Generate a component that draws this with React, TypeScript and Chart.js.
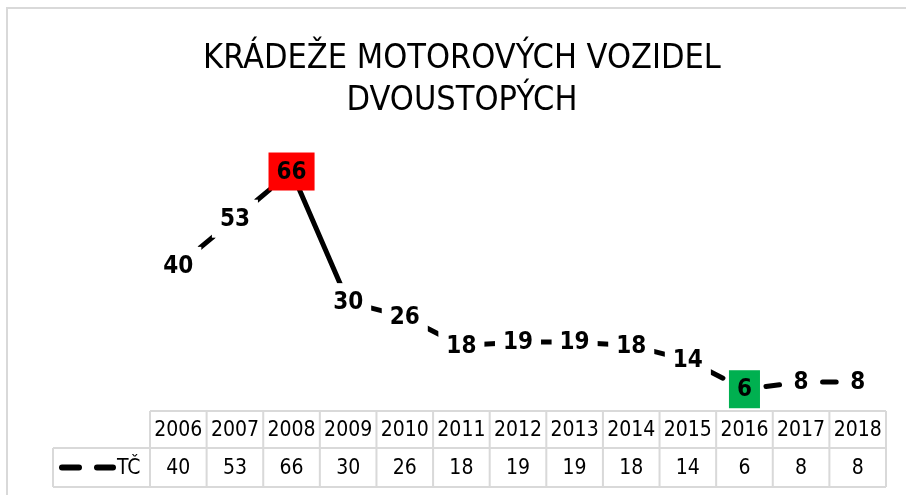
import React, { useEffect, useRef } from "react";
import { Chart, registerables } from "chart.js";

Chart.register(...registerables);

const years = ["2006", "2007", "2008", "2009", "2010", "2011", "2012", "2013", "2014", "2015", "2016", "2017", "2018"];
const values = [40, 53, 66, 30, 26, 18, 19, 19, 18, 14, 6, 8, 8];
const seriesName = "TČ";
const titleLines = ["KRÁDEŽE MOTOROVÝCH VOZIDEL", "DVOUSTOPÝCH"];
const highlightMax = "#ff0000";
const highlightMin = "#00b050";
const solidSegmentStart = 2;

const FONT = '"Liberation Sans Narrow", "DejaVu Sans Condensed", "Liberation Sans", sans-serif';
const GRID = "#d9d9d9";
const DASH_RATIO = 0.24;

function segLen(c: any) {
  return Math.hypot(c.p1.x - c.p0.x, c.p1.y - c.p0.y);
}
function segDash(c: any) {
  if (c.p0DataIndex === solidSegmentStart) return [];
  const len = segLen(c);
  const d = len * DASH_RATIO;
  return [d, len - d];
}
function segDashOffset(c: any) {
  if (c.p0DataIndex === solidSegmentStart) return 0;
  const len = segLen(c);
  const d = len * DASH_RATIO;
  return (len + d) / 2;
}

const framePlugin = {
  id: "frame",
  beforeDraw(chart: any) {
    const ctx = chart.ctx;
    ctx.save();
    ctx.fillStyle = "#ffffff";
    ctx.fillRect(0, 0, chart.width, chart.height);
    ctx.strokeStyle = GRID;
    ctx.lineWidth = 2;
    ctx.beginPath();
    ctx.moveTo(7, chart.height);
    ctx.lineTo(7, 8);
    ctx.lineTo(chart.width, 8);
    ctx.stroke();
    ctx.fillStyle = "#000000";
    ctx.font = `34px ${FONT}`;
    ctx.textAlign = "center";
    ctx.textBaseline = "middle";
    const cx = 462;
    titleLines.forEach((t, i) => ctx.fillText(t, cx, 59 + i * 42));
    ctx.restore();
  },
};

const labelPlugin = {
  id: "valueLabels",
  afterDatasetsDraw(chart: any) {
    const ctx = chart.ctx;
    const meta = chart.getDatasetMeta(0);
    const data = chart.data.datasets[0].data as number[];
    const maxV = Math.max(...data);
    const minV = Math.min(...data);
    ctx.save();
    ctx.font = `bold 24px ${FONT}`;
    ctx.textAlign = "center";
    ctx.textBaseline = "middle";
    meta.data.forEach((pt: any, i: number) => {
      const v = data[i];
      const txt = String(v);
      const w = ctx.measureText(txt).width + 16;
      const h = 38;
      let bg = "#ffffff";
      if (v === maxV) bg = highlightMax;
      else if (v === minV) bg = highlightMin;
      ctx.fillStyle = bg;
      ctx.fillRect(pt.x - w / 2, pt.y - h / 2, w, h);
      ctx.fillStyle = "#000000";
      ctx.fillText(txt, pt.x, pt.y + 1);
    });
    ctx.restore();
  },
};

const tablePlugin = {
  id: "dataTable",
  afterDraw(chart: any) {
    const ctx = chart.ctx;
    const xs = chart.scales.x;
    const area = chart.chartArea;
    const n = chart.data.labels.length;
    const colW = (area.right - area.left) / n;
    const top = area.bottom;
    const mid = top + 37;
    const bottom = mid + 39;
    const legendLeft = 53;
    ctx.save();
    ctx.strokeStyle = GRID;
    ctx.lineWidth = 2;
    ctx.beginPath();
    ctx.moveTo(area.left, top);
    ctx.lineTo(area.right, top);
    ctx.moveTo(legendLeft, mid);
    ctx.lineTo(area.right, mid);
    ctx.moveTo(legendLeft, bottom);
    ctx.lineTo(area.right, bottom);
    for (let i = 0; i <= n; i++) {
      const x = area.left + i * colW;
      ctx.moveTo(x, top);
      ctx.lineTo(x, bottom);
    }
    ctx.moveTo(legendLeft, mid);
    ctx.lineTo(legendLeft, bottom);
    ctx.stroke();

    ctx.fillStyle = "#000000";
    ctx.font = `21px ${FONT}`;
    ctx.textAlign = "center";
    ctx.textBaseline = "middle";
    const data = chart.data.datasets[0].data as number[];
    (chart.data.labels as string[]).forEach((lab, i) => {
      const cx = xs.getPixelForValue(i);
      ctx.fillText(lab, cx, (top + mid) / 2 + 1);
      ctx.fillText(String(data[i]), cx, (mid + bottom) / 2 + 1);
    });

    const ly = (mid + bottom) / 2;
    ctx.strokeStyle = "#000000";
    ctx.lineWidth = 6;
    ctx.lineCap = "round";
    ctx.beginPath();
    ctx.moveTo(62, ly);
    ctx.lineTo(79, ly);
    ctx.moveTo(97, ly);
    ctx.lineTo(113, ly);
    ctx.stroke();
    ctx.textAlign = "left";
    ctx.fillText(chart.data.datasets[0].label, 117, ly + 1);
    ctx.restore();
  },
};

export default function App() {
  const ref = useRef<HTMLCanvasElement | null>(null);
  useEffect(() => {
    if (!ref.current) return;
    const chart = new Chart(ref.current, {
      type: "line",
      data: {
        labels: years,
        datasets: [
          {
            label: seriesName,
            data: values,
            borderColor: "#000000",
            borderWidth: 5,
            borderDash: [18, 17],
            borderCapStyle: "round",
            pointRadius: 0,
            tension: 0,
            fill: false,
            segment: {
              borderDash: segDash,
              borderDashOffset: segDashOffset,
            },
          },
        ],
      },
      options: {
        responsive: false,
        animation: false,
        layout: { padding: { left: 150, right: 20, top: 157, bottom: 84 } },
        plugins: {
          legend: { display: false },
          tooltip: { enabled: false },
          title: { display: false },
        },
        scales: {
          x: { display: false, offset: true, grid: { display: false } },
          y: { display: false, min: 0, max: 70, grid: { display: false } },
        },
      },
      plugins: [framePlugin, labelPlugin, tablePlugin],
    });
    return () => chart.destroy();
  }, []);
  return (
    <div style={{ position: "fixed", left: 0, top: 0, width: 906, height: 495, background: "#fff" }}>
      <canvas ref={ref} width={906} height={495} style={{ width: 906, height: 495 }} />
    </div>
  );
}
